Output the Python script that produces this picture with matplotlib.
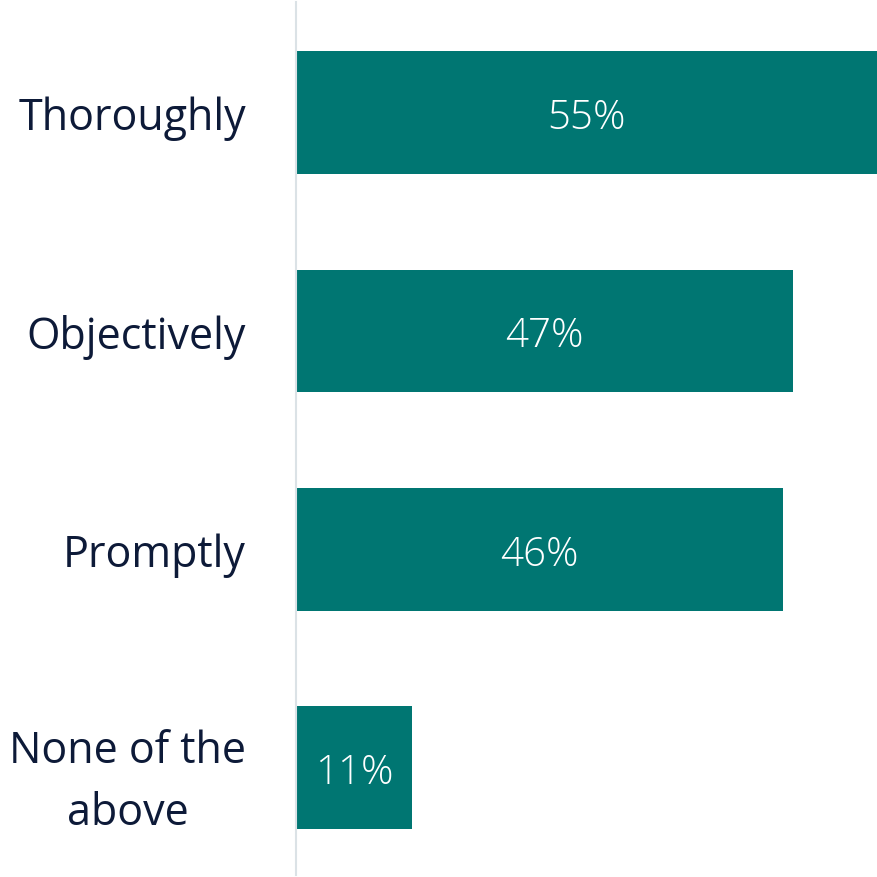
import matplotlib.pyplot as plt
from matplotlib import font_manager

categories = ["Thoroughly", "Objectively", "Promptly", "None of the\nabove"]
values = [55, 47, 46, 11]

BAR_COLOR = "#007672"
TEXT_COLOR = "#0d1a38"
AXIS_COLOR = "#dbe2e6"


def pick_family():
    names = {f.name for f in font_manager.fontManager.ttflist}
    for name in ["Open Sans", "Noto Sans", "DejaVu Sans"]:
        if name in names:
            return name
    return "DejaVu Sans"


def main():
    family = pick_family()
    plt.rcParams["font.family"] = family

    fig = plt.figure(figsize=(8.78, 8.78), dpi=100)
    ax = fig.add_axes([296 / 878, 0, 582 / 878, 1])

    ypos = list(range(len(categories)))
    ax.barh(ypos, values, height=0.5625, color=BAR_COLOR, left=0)

    for y, v in zip(ypos, values):
        ax.text(v / 2, y, f"{v}%", ha="center", va="center_baseline",
                color="white", fontsize=29, fontweight="light")

    ax.set_xlim(0, 55)
    ax.set_ylim(3.50, -0.52)

    ax.set_yticks(ypos)
    ax.set_yticklabels(categories, fontsize=31, color=TEXT_COLOR,
                       multialignment="center", linespacing=1.5)
    ax.tick_params(axis="y", length=0, pad=36)
    ax.set_xticks([])

    for side in ["top", "right", "bottom"]:
        ax.spines[side].set_visible(False)
    ax.spines["left"].set_color(AXIS_COLOR)
    ax.spines["left"].set_linewidth(1.5)
    ax.spines["left"].set_bounds(3.49, -0.505)

    fig.savefig("out.png", dpi=100)


if __name__ == "__main__":
    main()
